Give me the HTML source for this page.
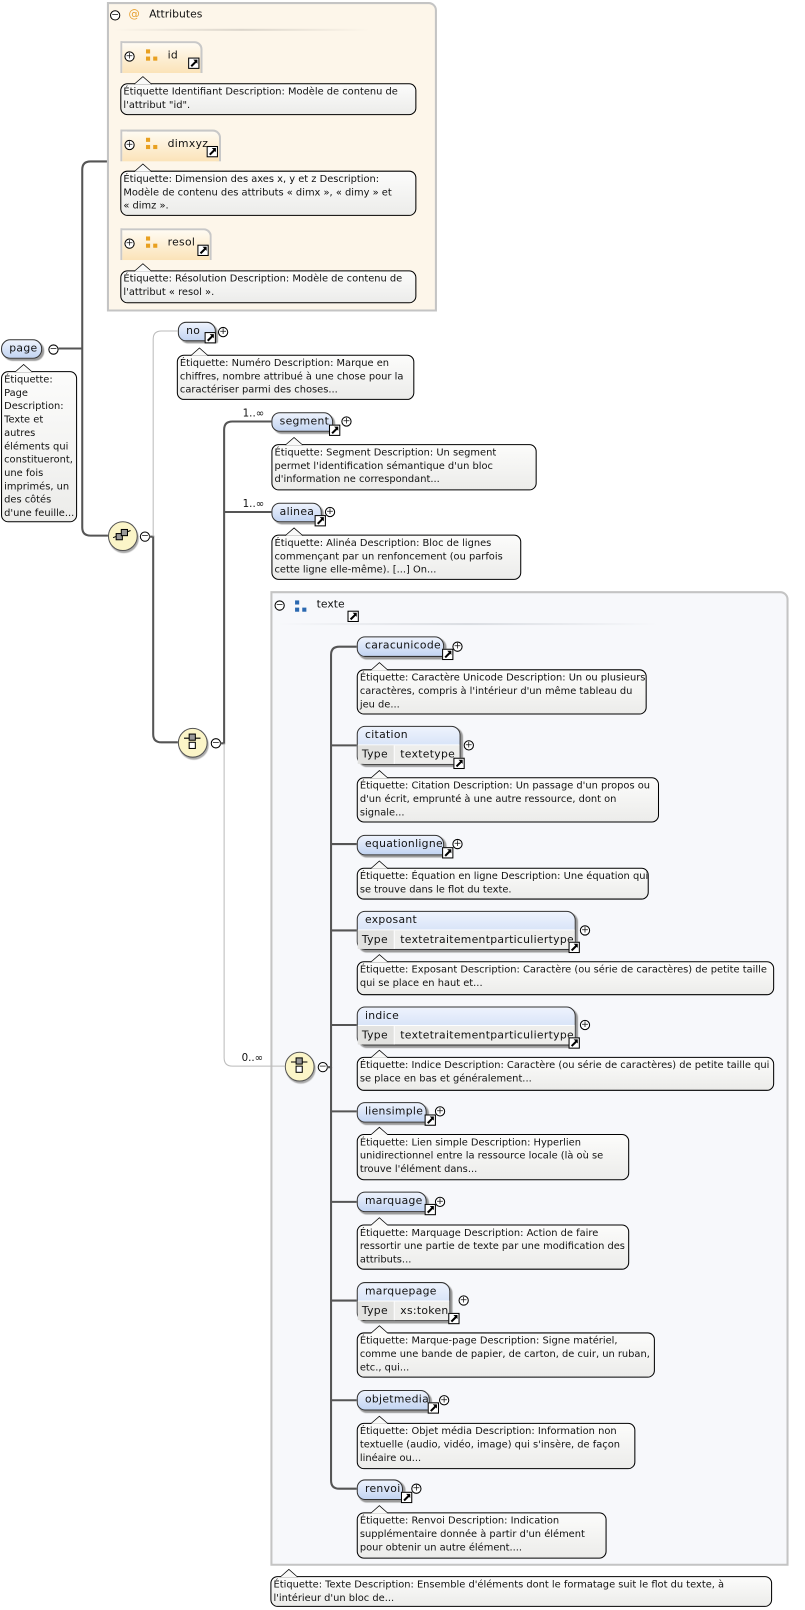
<!DOCTYPE html>
<html><head><meta charset="utf-8"><style>
html,body{margin:0;padding:0;background:#fff;width:805px;height:1610px;overflow:hidden}
#w{position:absolute;left:0;top:0;width:783px;height:1566px;transform:scale(1.0281);transform-origin:0 0;font-family:"DejaVu Sans","Liberation Sans",sans-serif;color:#111}
.box{position:absolute;box-sizing:border-box;border:2px solid #c4c4c4;border-radius:0 8px 0 0}
.el{position:absolute;box-sizing:border-box;border:1px solid #333;border-radius:8px 9px 2px 8px;background:linear-gradient(#eef3fd,#c2d4f2);box-shadow:2px 2px 1px #9a9a9a;font-size:10.5px;line-height:17px;padding-left:7px;letter-spacing:.3px}
.el.t{border-radius:8px 9px 2px 8px;line-height:16px}
.el .tr{position:absolute;left:0;right:0;bottom:0;height:18px;background:#eeeeec;border-top:1px solid #fff;border-radius:0 0 2px 8px;font-size:10.5px;line-height:18px}
.el .tr span{display:inline-block;padding:0 6px 0 4px;background:#e2e2e0;height:18px;border-right:1px solid #fff}
.el .tr b{font-weight:normal;padding-left:5px}
.at{position:absolute;box-sizing:border-box;border:2px solid #c8c8c8;border-bottom:none;border-radius:0 8px 0 0;background:linear-gradient(#fffbf2,#fbe3b8);font-size:10.5px;line-height:24px;padding-left:44px;letter-spacing:.3px}
.an{position:absolute;box-sizing:border-box;border:1px solid #000;border-radius:7px;background:linear-gradient(#fcfcfb,#ececea);font-size:9.6px;line-height:13px;padding:1px 2px;white-space:nowrap;overflow:hidden}
.cr{position:absolute;width:0;height:0;border-left:9px solid transparent;border-right:9px solid transparent;border-bottom:8px solid #000}
.cr:after{content:"";position:absolute;left:-8px;top:1px;border-left:8px solid transparent;border-right:8px solid transparent;border-bottom:7px solid #f9f9f8}
.lk{position:absolute;width:9px;height:9px;border:1px solid #000;background:#fff}
.lk:before{content:"";position:absolute;left:1px;top:4px;width:7px;height:2px;background:#000;transform:rotate(-45deg)}
.lk:after{content:"";position:absolute;left:4px;top:1px;width:0;height:0;border-top:4px solid #000;border-left:4px solid transparent}
.pm{position:absolute;width:8px;height:8px;border:1px solid #000;border-radius:50%;background:#fff;font-size:9px;line-height:8px;text-align:center}
.sq{position:absolute;width:4px;height:4px}
.lbl{position:absolute;font-size:10px}
</style></head><body><div id="w">

<div class="box" style="left:104px;top:2px;width:321px;height:301px;background:#fdf6ea"></div>
<div class="pm" style="left:107px;top:10px">−</div>
<div style="position:absolute;left:125px;top:7px;font-size:11px;color:#e6a030">@</div>
<div style="position:absolute;left:145px;top:8px;font-size:10.5px">Attributes</div>
<div style="position:absolute;left:110px;top:28px;width:250px;height:2px;background:linear-gradient(90deg,#fdf6ea,#dcd6cc,#fdf6ea)"></div>

<div class="at" style="left:117px;top:40px;width:80px;height:31px">id</div>
<div class="at" style="left:117px;top:126px;width:98px;height:31px">dimxyz</div>
<div class="at" style="left:117px;top:222px;width:89px;height:31px">resol</div>

<div class="el" style="left:1px;top:330px;width:40px;height:19px;border-radius:9px">page</div>
<div class="pm" style="left:47px;top:335px">−</div>

<div style="position:absolute;left:105px;top:507px;width:27px;height:27px;border:1px solid #555;border-radius:50%;background:#fbf5c8;box-shadow:1px 2px 1px #aaa"></div>
<svg style="position:absolute;left:108px;top:512px" width="22" height="18"><line x1="2" y1="11" x2="19" y2="4" stroke="#000"/><rect x="5" y="7" width="6" height="6" fill="#999" stroke="#000"/><rect x="10" y="3" width="6" height="6" fill="#999" stroke="#000"/></svg>
<div class="pm" style="left:136px;top:517px">−</div>
<div style="position:absolute;left:173px;top:708px;width:27px;height:27px;border:1px solid #555;border-radius:50%;background:#fbf5c8;box-shadow:1px 2px 1px #aaa"></div>
<svg style="position:absolute;left:176px;top:711px" width="22" height="22"><line x1="3" y1="7" x2="19" y2="7" stroke="#000"/><rect x="8" y="3" width="6" height="6" fill="#999" stroke="#000"/><rect x="8" y="11" width="6" height="6" fill="#fff" stroke="#000"/></svg>
<div class="pm" style="left:205px;top:718px">−</div>

<div class="el" style="left:173px;top:313px;width:37px;height:19px">no</div>
<div class="pm" style="left:212px;top:318px">+</div>
<div class="lbl" style="left:236px;top:397px">1..∞</div>
<div class="el" style="left:264px;top:401px;width:60px;height:19px">segment</div>
<div class="pm" style="left:332px;top:405px">+</div>
<div class="lbl" style="left:236px;top:485px">1..∞</div>
<div class="el" style="left:264px;top:489px;width:49px;height:19px">alinea</div>
<div class="pm" style="left:316px;top:493px">+</div>

<div class="box" style="left:263px;top:575px;width:504px;height:948px;background:#f7f8fb"></div>
<div class="pm" style="left:267px;top:584px">−</div>
<div class="sq" style="left:287px;top:584px;background:#2a68b0"></div><div class="sq" style="left:287px;top:591px;background:#2a68b0"></div><div class="sq" style="left:294px;top:591px;background:#2a68b0"></div>
<div style="position:absolute;left:308px;top:582px;font-size:10.5px">texte</div>
<div class="lk" style="left:338px;top:594px"></div>
<div style="position:absolute;left:270px;top:606px;width:370px;height:2px;background:linear-gradient(90deg,#f7f8fb,#dadde2,#f7f8fb)"></div>

<div class="lbl" style="left:235px;top:1024px">0..∞</div>
<div style="position:absolute;left:277px;top:1023px;width:27px;height:27px;border:1px solid #555;border-radius:50%;background:#fbf5c8;box-shadow:1px 2px 1px #aaa"></div>
<svg style="position:absolute;left:280px;top:1026px" width="22" height="22"><line x1="3" y1="7" x2="19" y2="7" stroke="#000"/><rect x="8" y="3" width="6" height="6" fill="#999" stroke="#000"/><rect x="8" y="11" width="6" height="6" fill="#fff" stroke="#000"/></svg>
<div class="pm" style="left:309px;top:1033px">−</div>

<div class="el" style="left:347px;top:619px;width:85px;height:20px">caracunicode</div>
<div class="pm" style="left:440px;top:624px">+</div>
<div class="el t" style="left:347px;top:706px;width:101px;height:38px">citation<div class="tr"><span>Type</span><b>textetype</b></div></div>
<div class="pm" style="left:451px;top:720px">+</div>
<div class="el" style="left:347px;top:812px;width:85px;height:20px">equationligne</div>
<div class="pm" style="left:440px;top:816px">+</div>
<div class="el t" style="left:347px;top:886px;width:213px;height:38px">exposant<div class="tr"><span>Type</span><b>textetraitementparticuliertype</b></div></div>
<div class="pm" style="left:564px;top:900px">+</div>
<div class="el t" style="left:347px;top:979px;width:213px;height:38px">indice<div class="tr"><span>Type</span><b>textetraitementparticuliertype</b></div></div>
<div class="pm" style="left:564px;top:992px">+</div>
<div class="el" style="left:347px;top:1072px;width:68px;height:20px">liensimple</div>
<div class="pm" style="left:423px;top:1076px">+</div>
<div class="el" style="left:347px;top:1159px;width:68px;height:20px">marquage</div>
<div class="pm" style="left:423px;top:1164px">+</div>
<div class="el t" style="left:347px;top:1247px;width:91px;height:38px">marquepage<div class="tr"><span>Type</span><b>xs:token</b></div></div>
<div class="pm" style="left:446px;top:1260px">+</div>
<div class="el" style="left:347px;top:1352px;width:71px;height:20px">objetmedia</div>
<div class="pm" style="left:427px;top:1357px">+</div>
<div class="el" style="left:347px;top:1439px;width:45px;height:20px">renvoi</div>
<div class="pm" style="left:400px;top:1443px">+</div>

<div class="lk" style="left:183px;top:56px"></div>
<div class="lk" style="left:201px;top:142px"></div>
<div class="lk" style="left:192px;top:238px"></div>
<div class="lk" style="left:199px;top:323px"></div>
<div class="lk" style="left:320px;top:413px"></div>
<div class="lk" style="left:306px;top:501px"></div>
<div class="lk" style="left:430px;top:631px"></div>
<div class="lk" style="left:441px;top:737px"></div>
<div class="lk" style="left:430px;top:824px"></div>
<div class="lk" style="left:553px;top:916px"></div>
<div class="lk" style="left:553px;top:1009px"></div>
<div class="lk" style="left:413px;top:1084px"></div>
<div class="lk" style="left:413px;top:1171px"></div>
<div class="lk" style="left:436px;top:1277px"></div>
<div class="lk" style="left:416px;top:1364px"></div>
<div class="lk" style="left:390px;top:1451px"></div>

<div class="pm" style="left:121px;top:50px">+</div>
<div class="sq" style="left:142px;top:48px;background:#e8a020"></div><div class="sq" style="left:142px;top:55px;background:#e8a020"></div><div class="sq" style="left:149px;top:55px;background:#e8a020"></div>
<div class="pm" style="left:121px;top:136px">+</div>
<div class="sq" style="left:142px;top:134px;background:#e8a020"></div><div class="sq" style="left:142px;top:141px;background:#e8a020"></div><div class="sq" style="left:149px;top:141px;background:#e8a020"></div>
<div class="pm" style="left:121px;top:232px">+</div>
<div class="sq" style="left:142px;top:230px;background:#e8a020"></div><div class="sq" style="left:142px;top:237px;background:#e8a020"></div><div class="sq" style="left:149px;top:237px;background:#e8a020"></div>

<div class="an" style="left:117px;top:81px;width:288px;height:31px">Étiquette Identifiant Description: Modèle de contenu de<br>l'attribut "id".</div><div class="cr" style="left:130px;top:74px"></div>
<div class="an" style="left:117px;top:166px;width:288px;height:44px">Étiquette: Dimension des axes x, y et z Description:<br>Modèle de contenu des attributs « dimx », « dimy » et<br>« dimz ».</div><div class="cr" style="left:130px;top:159px"></div>
<div class="an" style="left:117px;top:263px;width:288px;height:32px">Étiquette: Résolution Description: Modèle de contenu de<br>l'attribut « resol ».</div><div class="cr" style="left:130px;top:256px"></div>
<div class="an" style="left:1px;top:361px;width:74px;height:147px">Étiquette:<br>Page<br>Description:<br>Texte et<br>autres<br>éléments qui<br>constitueront,<br>une fois<br>imprimés, un<br>des côtés<br>d'une feuille...</div><div class="cr" style="left:14px;top:354px"></div>
<div class="an" style="left:172px;top:345px;width:231px;height:44px">Étiquette: Numéro Description: Marque en<br>chiffres, nombre attribué à une chose pour la<br>caractériser parmi des choses...</div><div class="cr" style="left:185px;top:338px"></div>
<div class="an" style="left:264px;top:432px;width:258px;height:45px">Étiquette: Segment Description: Un segment<br>permet l'identification sémantique d'un bloc<br>d'information ne correspondant...</div><div class="cr" style="left:277px;top:425px"></div>
<div class="an" style="left:264px;top:520px;width:243px;height:44px">Étiquette: Alinéa Description: Bloc de lignes<br>commençant par un renfoncement (ou parfois<br>cette ligne elle-même). [...] On...</div><div class="cr" style="left:277px;top:513px"></div>
<div class="an" style="left:347px;top:651px;width:282px;height:44px">Étiquette: Caractère Unicode Description: Un ou plusieurs<br>caractères, compris à l'intérieur d'un même tableau du<br>jeu de...</div><div class="cr" style="left:360px;top:644px"></div>
<div class="an" style="left:347px;top:756px;width:294px;height:44px">Étiquette: Citation Description: Un passage d'un propos ou<br>d'un écrit, emprunté à une autre ressource, dont on<br>signale...</div><div class="cr" style="left:360px;top:749px"></div>
<div class="an" style="left:347px;top:844px;width:284px;height:31px">Étiquette: Équation en ligne Description: Une équation qui<br>se trouve dans le flot du texte.</div><div class="cr" style="left:360px;top:837px"></div>
<div class="an" style="left:347px;top:935px;width:406px;height:33px">Étiquette: Exposant Description: Caractère (ou série de caractères) de petite taille<br>qui se place en haut et...</div><div class="cr" style="left:360px;top:928px"></div>
<div class="an" style="left:347px;top:1028px;width:406px;height:33px">Étiquette: Indice Description: Caractère (ou série de caractères) de petite taille qui<br>se place en bas et généralement...</div><div class="cr" style="left:360px;top:1021px"></div>
<div class="an" style="left:347px;top:1103px;width:265px;height:45px">Étiquette: Lien simple Description: Hyperlien<br>unidirectionnel entre la ressource locale (là où se<br>trouve l'élément dans...</div><div class="cr" style="left:360px;top:1096px"></div>
<div class="an" style="left:347px;top:1191px;width:265px;height:44px">Étiquette: Marquage Description: Action de faire<br>ressortir une partie de texte par une modification des<br>attributs...</div><div class="cr" style="left:360px;top:1184px"></div>
<div class="an" style="left:347px;top:1296px;width:290px;height:44px">Étiquette: Marque-page Description: Signe matériel,<br>comme une bande de papier, de carton, de cuir, un ruban,<br>etc., qui...</div><div class="cr" style="left:360px;top:1289px"></div>
<div class="an" style="left:347px;top:1384px;width:271px;height:45px">Étiquette: Objet média Description: Information non<br>textuelle (audio, vidéo, image) qui s'insère, de façon<br>linéaire ou...</div><div class="cr" style="left:360px;top:1377px"></div>
<div class="an" style="left:347px;top:1471px;width:243px;height:45px">Étiquette: Renvoi Description: Indication<br>supplémentaire donnée à partir d'un élément<br>pour obtenir un autre élément....</div><div class="cr" style="left:360px;top:1464px"></div>
<div class="an" style="left:263px;top:1533px;width:488px;height:30px">Étiquette: Texte Description: Ensemble d'éléments dont le formatage suit le flot du texte, à<br>l'intérieur d'un bloc de...</div><div class="cr" style="left:272px;top:1526px"></div>

<svg style="position:absolute;left:0;top:0" width="783" height="1566" fill="none">
<g stroke="#555" stroke-width="2">
<path d="M57,339H80"/>
<path d="M104,157H88Q80,157 80,165V513Q80,521 88,521H105"/>
<path d="M145,522H149V714Q149,722 157,722H173"/>
<path d="M214,723H218V418Q218,410 226,410H264"/>
<path d="M218,498H264"/>
<path d="M318,1038H322V637Q322,629 330,629H347"/>
<path d="M322,1038V1440Q322,1448 330,1448H347"/>
<path d="M322,725H347M322,821H347M322,905H347M322,997H347M322,1081H347M322,1169H347M322,1265H347M322,1362H347"/>
</g>
<g stroke="#bbb" stroke-width="1">
<path d="M149,522V330Q149,322 157,322H173"/>
<path d="M218,723V1029Q218,1037 226,1037H277"/>
</g>
</svg>
</div></body></html>
